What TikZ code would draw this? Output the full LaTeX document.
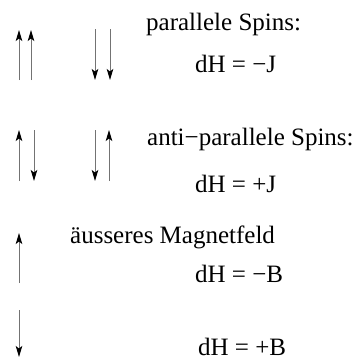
\documentclass[tikz,border=0pt]{standalone}
\usepackage{fontspec}
\setmainfont{Liberation Serif}
\usepackage{tikz}
\usetikzlibrary{arrows.meta,positioning}

\begin{document}
\begin{tikzpicture}[x=1pt, y=-1pt,
    spin/.style={draw=black!55, line width=0.9pt, -{Stealth[length=11pt, width=6.5pt, inset=2.5pt, black]}},
    label/.style={anchor=base west, inner sep=0pt, font=\fontsize{25}{30}\selectfont}]

\useasboundingbox (0,0) rectangle (354,360);

% Row 1: parallel spins
\draw[spin] (19, 80) -- (19, 30);
\draw[spin] (31, 80) -- (31, 30);
\draw[spin] (95, 29) -- (95, 80);
\draw[spin] (110, 29) -- (110, 80);

\node[label] (par) at (146, 30) {parallele Spins:};
\node[label] (parJ) at (195, 72) {dH = −J};

% Row 2: anti-parallel spins
\draw[spin] (19, 181) -- (19, 130);
\draw[spin] (34, 130) -- (34, 181);
\draw[spin] (95, 130) -- (95, 181);
\draw[spin] (109, 181) -- (109, 130);

\node[label] (anti) at (147, 145) {anti−parallele Spins:};
\node[label] (antiJ) at (195, 192) {dH = +J};

% Row 3: external field
\draw[spin] (19, 283) -- (19, 233);
\draw[spin] (19, 310) -- (19, 357);

\node[label] (feld) at (70, 243) {äusseres Magnetfeld};
\node[label] (feldB) at (195, 282) {dH = −B};
\node[label] (feldBp) at (198, 355) {dH = +B};

\end{tikzpicture}
\end{document}
